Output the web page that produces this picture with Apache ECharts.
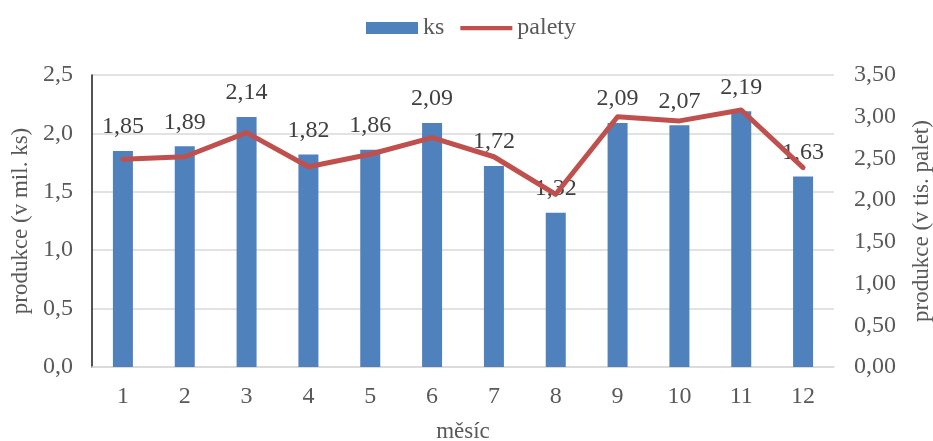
<!DOCTYPE html>
<html>
<head>
<meta charset="utf-8">
<script src="https://cdn.jsdelivr.net/npm/echarts@6/dist/echarts.min.js"></script>
<style>
  html, body { margin: 0; padding: 0; background: #fff; }
  #chart { width: 933px; height: 441px; }
</style>
</head>
<body>
<div id="chart"></div>
<script>
// Monthly production: pieces (millions) and pallets (thousands)
const months = ['1', '2', '3', '4', '5', '6', '7', '8', '9', '10', '11', '12'];
const ks = [1.85, 1.89, 2.14, 1.82, 1.86, 2.09, 1.72, 1.32, 2.09, 2.07, 2.19, 1.63];
const palety = [2.49, 2.52, 2.81, 2.40, 2.55, 2.75, 2.52, 2.07, 3.00, 2.95, 3.08, 2.39];

const serif = '"Liberation Serif", "Times New Roman", serif';
const textColor = '#595959';
const fmt = (d) => (v) => v.toFixed(d).replace('.', ',');

// legend line icon: a thin band inside a taller invisible bounding box
const lineIcon = 'path://M0,0 L0.01,0 M0,4 L55,4 L55,8.5 L0,8.5 Z M0,12 L0.01,12';

const chart = echarts.init(document.getElementById('chart'));
chart.setOption({
  animation: false,
  textStyle: { fontFamily: serif },
  legend: {
    top: 11,
    left: 361,
    itemGap: 16,
    itemWidth: 52,
    itemHeight: 12,
    textStyle: { fontFamily: serif, fontSize: 24, color: textColor },
    data: [
      { name: 'ks', icon: 'rect' },
      { name: 'palety', icon: lineIcon, itemStyle: { color: '#c0504d', borderWidth: 0 } }
    ]
  },
  grid: { left: 92, right: 99, top: 75, bottom: 74, containLabel: false, outerBoundsMode: 'none' },
  xAxis: {
    type: 'category',
    data: months,
    name: 'měsíc',
    nameLocation: 'middle',
    nameGap: 53,
    nameTextStyle: { fontFamily: serif, fontSize: 23, color: textColor },
    axisLine: { lineStyle: { color: '#d9d9d9', width: 1.5 } },
    axisTick: { show: false },
    axisLabel: { fontFamily: serif, fontSize: 24, color: textColor, margin: 18 }
  },
  yAxis: [
    {
      type: 'value',
      min: 0, max: 2.5, interval: 0.5,
      name: 'produkce (v mil. ks)',
      nameLocation: 'middle',
      nameGap: 50,
      nameTextStyle: { fontFamily: serif, fontSize: 23, color: textColor },
      axisLine: { show: true, lineStyle: { color: '#1a1a1a', width: 1.5 } },
      axisTick: { show: false },
      axisLabel: { formatter: fmt(1), fontFamily: serif, fontSize: 24, color: textColor, margin: 19 },
      splitLine: { lineStyle: { color: '#d9d9d9', width: 1.5 } }
    },
    {
      type: 'value',
      min: 0, max: 3.5, interval: 0.5,
      name: 'produkce (v tis. palet)',
      nameLocation: 'middle',
      nameGap: 76,
      nameRotate: 90,
      nameTextStyle: { fontFamily: serif, fontSize: 23, color: textColor },
      axisLine: { show: false },
      axisTick: { show: false },
      axisLabel: { formatter: fmt(2), fontFamily: serif, fontSize: 24, color: textColor, margin: 20 },
      splitLine: { show: false }
    }
  ],
  series: [
    {
      name: 'ks',
      type: 'bar',
      data: ks,
      yAxisIndex: 0,
      barWidth: 20,
      itemStyle: { color: '#4f81bd' },
      label: {
        show: true,
        position: 'top',
        distance: 12,
        formatter: (p) => fmt(2)(p.value),
        fontFamily: serif,
        fontSize: 24,
        color: '#404040'
      }
    },
    {
      name: 'palety',
      type: 'line',
      data: palety,
      yAxisIndex: 1,
      symbol: 'none',
      lineStyle: { color: '#c0504d', width: 5, cap: 'round', join: 'round' },
      itemStyle: { color: '#c0504d' },
      z: 3
    }
  ]
});
</script>
</body>
</html>
